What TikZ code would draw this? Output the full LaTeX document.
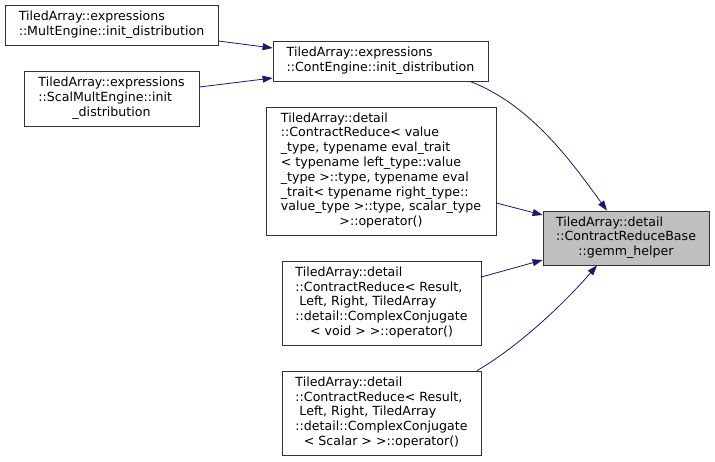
\documentclass[tikz,border=0pt]{standalone}
\usepackage{fontspec}
\setmainfont{DejaVu Sans}
\usetikzlibrary{arrows.meta}
\definecolor{edgeblue}{HTML}{191970}
\definecolor{boxgray}{HTML}{BFBFBF}
\newcommand{\lbl}[2]{\begin{tabular}{@{}l@{}}#1\\\multicolumn{1}{@{}c@{}}{#2}\end{tabular}}
\tikzset{
  box/.style={draw=black!80, line width=0.8pt, fill=white, inner sep=0pt,
    font=\fontsize{12.6}{14.8}\selectfont},
  focus/.style={box, fill=boxgray},
  edge/.style={draw=edgeblue, line width=0.8pt, -{Triangle[length=10pt,width=7pt]}}
}
\begin{document}
\begin{tikzpicture}[x=1pt,y=-1pt]
\useasboundingbox (0,0) rectangle (715,461);
\node[box, minimum width=213pt, minimum height=40pt] (A) at (111.5,25)
  {\lbl{TiledArray::expressions}{::MultEngine::init\_distribution}};
\node[box, minimum width=175pt, minimum height=55pt] (B) at (111.5,98.5)
  {\lbl{TiledArray::expressions\\::ScalMultEngine::init}{\_distribution}};
\node[box, minimum width=215pt, minimum height=40pt] (C) at (380.5,61)
  {\lbl{TiledArray::expressions}{::ContEngine::init\_distribution}};
\node[box, minimum width=230pt, minimum height=128pt] (D) at (381,171)
  {\lbl{TiledArray::detail\\::ContractReduce< value\\\_type, typename eval\_trait\\< typename left\_type::value\\\_type >::type, typename eval\\\_trait< typename right\_type::\\value\_type >::type, scalar\_type}{>::operator()}};
\node[focus, minimum width=166pt, minimum height=54pt] (G) at (626,238)
  {\lbl{TiledArray::detail\\::ContractReduceBase}{::gemm\_helper}};
\node[box, minimum width=199pt, minimum height=84pt] (E) at (381.5,303)
  {\lbl{TiledArray::detail\\::ContractReduce< Result,\\\ Left, Right, TiledArray\\::detail::ComplexConjugate}{< void > >::operator()}};
\node[box, minimum width=199pt, minimum height=84pt] (F) at (381.5,413)
  {\lbl{TiledArray::detail\\::ContractReduce< Result,\\\ Left, Right, TiledArray\\::detail::ComplexConjugate}{< Scalar > >::operator()}};

\draw[edge] ([yshift=-16pt]A.east) -- ([yshift=13pt]C.west);
\draw[edge] ([yshift=11.5pt]B.east) -- ([yshift=-17pt]C.west);
\draw[edge] ([xshift=89.5pt]C.south) .. controls +(60,23) and +(-37,-51) .. ([xshift=-19pt]G.north);
\draw[edge] ([yshift=-32pt]D.east) -- ([yshift=23pt]G.west);
\draw[edge] ([yshift=26pt]E.east) -- ([yshift=-22pt]G.west);
\draw[edge] ([xshift=95.5pt]F.north) .. controls +(43,-25) and +(-32,37) .. ([xshift=-29pt]G.south);
\end{tikzpicture}
\end{document}
